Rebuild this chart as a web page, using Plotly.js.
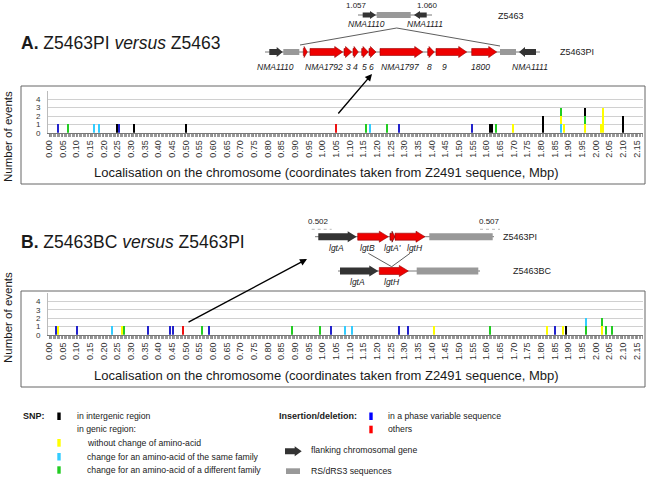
<!DOCTYPE html>
<html><head><meta charset="utf-8">
<script src="https://cdn.plot.ly/plotly-3.0.1.min.js"></script>
<style>body{margin:0;background:#fff}#c{width:652px;height:480px}</style>
</head><body><div id="c"></div>
<script>
// ---------- DATA (positions in Mbp, number of events) ----------
// Panel A: Z5463PI versus Z5463
const aCyanX   = [0.166, 0.182, 1.176, 1.875];
const aCyanY   = [1, 1, 1, 1];
const aYellowX = [1.699, 1.875, 1.885, 1.961, 2.018, 2.027];
const aYellowY = [1, 1, 1, 1, 1, 3];
const aGreenX  = [0.068, 1.161, 1.236, 1.636, 1.875, 1.961];
const aGreenY  = [1, 1, 1, 1, 1, 1];
const aBlackX  = [0.248, 0.311, 0.500, 1.615, 1.622, 1.806, 1.961, 2.100];
const aBlackY  = [1, 1, 1, 1, 1, 2, 1, 2];
const aBlueX   = [0.034, 0.256, 1.281, 1.548];
const aBlueY   = [1, 1, 1, 1];
const aRedX    = [1.050];
const aRedY    = [1];
// Panel B: Z5463BC versus Z5463PI
const bYellowX = [0.033, 0.266, 1.409, 1.823, 1.881, 2.023];
const bYellowY = [1, 1, 1, 1, 1, 1];
const bGreenX  = [0.273, 0.561, 0.888, 0.990, 1.615, 1.964, 2.023, 2.037, 2.060];
const bGreenY  = [1, 1, 1, 1, 1, 1, 1, 1, 1];
const bCyanX   = [0.232, 1.083, 1.109, 1.964];
const bCyanY   = [1, 1, 1, 1];
const bBlackX  = [1.891];
const bBlackY  = [1];
const bBlueX   = [0.024, 0.102, 0.361, 0.444, 0.453, 0.584, 1.031, 1.281, 1.315, 1.853];
const bBlueY   = [1, 1, 1, 1, 1, 1, 1, 1, 1, 1];
const bRedX    = [0.490];
const bRedY    = [1];
const yTicks   = [0, 1, 2, 3, 4];
const xTitle   = 'Localisation on the chromosome (coordinates taken from Z2491 sequence, Mbp)';
const yTitle   = 'Number of events';

// ---------- STYLE ----------
const COL = {black:'#000000', yellow:'#ffff00', cyan:'#33ccff', green:'#22cc22', blue:'#2222cc', red:'#ee1111'};
const FONT = 'Liberation Sans, Arial, sans-serif';
const W=652, H=480;
const PX=x=>x/W, PY=y=>1-y/H;
const shapes=[], ann=[];
function rect(x0,y0,x1,y1,fill,lc,lw){shapes.push({type:'rect',xref:'paper',yref:'paper',x0:PX(x0),x1:PX(x1),y0:PY(y0),y1:PY(y1),fillcolor:fill||'rgba(0,0,0,0)',line:{color:lc||'rgba(0,0,0,0)',width:lw||0},layer:'above'});}
function line(x0,y0,x1,y1,c,w,dash){shapes.push({type:'line',xref:'paper',yref:'paper',x0:PX(x0),x1:PX(x1),y0:PY(y0),y1:PY(y1),line:{color:c,width:w,dash:dash||'solid'},layer:'above'});}
function gene(x0,x1,yc,dir,fill,bh,hh,hl,lc){
  const L=Math.min(hl,(x1-x0)*0.8);
  let pts;
  if(dir>0){const b=x1-L;pts=[[x0,yc-bh/2],[b,yc-bh/2],[b,yc-hh/2],[x1,yc],[b,yc+hh/2],[b,yc+bh/2],[x0,yc+bh/2]];}
  else{const b=x0+L;pts=[[x1,yc-bh/2],[b,yc-bh/2],[b,yc-hh/2],[x0,yc],[b,yc+hh/2],[b,yc+bh/2],[x1,yc+bh/2]];}
  const path='M'+pts.map(p=>PX(p[0]).toFixed(5)+','+PY(p[1]).toFixed(5)).join('L')+'Z';
  shapes.push({type:'path',xref:'paper',yref:'paper',path:path,fillcolor:fill,line:{color:lc||fill,width:lc?0.6:0},layer:'above'});
}
function txt(x,y,t,size,o){o=o||{};ann.push({xref:'paper',yref:'paper',x:PX(x),y:PY(y),text:t,showarrow:false,xanchor:o.xa||'center',yanchor:'middle',textangle:o.ang||0,borderpad:0,font:{size:size,color:o.c||'#1a1a1a',family:o.f||FONT}});}
function arrowAnn(hx,hy,tx,ty){ann.push({xref:'paper',yref:'paper',x:PX(hx),y:PY(hy),ax:tx-hx,ay:ty-hy,text:'',showarrow:true,arrowhead:2,arrowsize:1,arrowwidth:1.4,arrowcolor:'#000'});}

// ---------- TRACES ----------
function bars(x,y,color,xa,ya){return {type:'bar',x:x,y:y,width:0.0075,marker:{color:color,line:{width:0}},xaxis:xa,yaxis:ya,hoverinfo:'skip',showlegend:false};}
const data=[
  bars(aCyanX,aCyanY,COL.cyan,'x','y'),
  bars(aYellowX,aYellowY,COL.yellow,'x','y'),
  bars(aGreenX,aGreenY,COL.green,'x','y'),
  bars(aBlackX,aBlackY,COL.black,'x','y'),
  bars(aBlueX,aBlueY,COL.blue,'x','y'),
  bars(aRedX,aRedY,COL.red,'x','y'),
  bars(bYellowX,bYellowY,COL.yellow,'x2','y2'),
  bars(bGreenX,bGreenY,COL.green,'x2','y2'),
  bars(bCyanX,bCyanY,COL.cyan,'x2','y2'),
  bars(bBlackX,bBlackY,COL.black,'x2','y2'),
  bars(bBlueX,bBlueY,COL.blue,'x2','y2'),
  bars(bRedX,bRedY,COL.red,'x2','y2')
];

// ---------- SHAPES / TEXT ----------
rect(21,86,645,184,null,'#666',1);
rect(21,291,645,387,null,'#666',1);
txt(326,172,xTitle,13);
txt(326,375,xTitle,13);
txt(8,137,yTitle,11.5,{ang:-90});
txt(8,318,yTitle,11.5,{ang:-90});

// Panel A
txt(20,43,'<b>A.</b> Z5463PI <i>versus</i> Z5463',17.5,{xa:'left'});
line(358,15,432,15,'#555',0.8);
gene(362.7,376,15,1,'#333',5,8,6);
rect(376.7,12,410.7,18,'#999');
gene(414,426.7,15,-1,'#333',5,8,6);
txt(356,6,'1.057',8); txt(427,6,'1.060',8);
txt(366.5,24,'<i>NMA1110</i>',8.5); txt(424.7,24,'<i>NMA1111</i>',8.5);
txt(497,16,'Z5463',9,{xa:'left'});
line(396.7,28,300,45,'#333',0.8); line(396.7,28,500,46,'#333',0.8);
line(265,52,540,52,'#555',0.8);
gene(269.3,282.7,52,1,'#333',6,10,6);
rect(283.3,49,299.3,55,'#999');
[[303.3,307.3],[310,342.7],[344,351.7],[353,358.3],[361.7,368.3],[369,376],[380,422.7],[427.7,434.3],[436,466.7],[471.7,496.7]]
  .forEach(g=>gene(g[0],g[1],52,1,'#ee0000',7,11,8,'#990000'));
rect(500,49,516,55,'#999');
gene(519,536,52,-1,'#333',6,10,6);
[['NMA1110',275.5],['NMA1792',324.3],['3',348.3],['4',355],['5',364.3],['6',371.7],['NMA1797',400],['8',429.3],['9',445],['1800',480],['NMA1111',530]]
  .forEach(l=>txt(l[1],67,'<i>'+l[0]+'</i>',8.5));
txt(559,52,'Z5463PI',9,{xa:'left'});
arrowAnn(372,74,337,115);

// Panel B
txt(20,242,'<b>B.</b> Z5463BC <i>versus</i> Z5463PI',17.5,{xa:'left'});
txt(318.3,221,'0.502',8); txt(489.3,221,'0.507',8);
line(311.7,229.3,331.7,229.3,'#bbb',1,'dot'); line(480,229.3,500,229.3,'#bbb',1,'dot');
line(315,236.7,494,236.7,'#555',0.8);
gene(318.3,356.7,236.7,1,'#333',7,11,9);
gene(357.7,388.3,236.7,1,'#ee0000',7,11,9,'#990000');
gene(390,395,236.7,1,'#ee0000',7,11,3,'#550000');
gene(395,425,236.7,1,'#ee0000',7,11,9,'#990000');
rect(429.3,233.2,492.7,240.2,'#999');
[['lgtA',336.7],['lgtB',367.7],["lgtA'",392.7],['lgtH',415]].forEach(l=>txt(l[1],247.7,'<i>'+l[0]+'</i>',8.5));
txt(502,236.7,'Z5463PI',9,{xa:'left'});
line(368.3,253.3,391.7,266.7,'#333',0.8); line(391.7,266.7,410,253.3,'#333',0.8);
line(338,271,480,271,'#555',0.8);
gene(340,378.3,271,1,'#333',7,11,9);
gene(379.3,408.3,271,1,'#ee0000',7,11,9,'#990000');
rect(416.7,267.5,478.3,274.5,'#999');
txt(357.3,281.7,'<i>lgtA</i>',8.5); txt(391.7,281.7,'<i>lgtH</i>',8.5);
txt(512,270.7,'Z5463BC',9,{xa:'left'});
arrowAnn(307,259,187,323);

// Legend
const LF=8.7;
txt(22,416,'<b>SNP:</b>',9,{xa:'left'});
rect(57.3,412.5,60.7,420,COL.black);
txt(75.5,416,'in intergenic region',LF,{xa:'left'});
txt(75.5,429.3,'in genic region:',LF,{xa:'left'});
rect(57.3,439,60.7,446.7,COL.yellow);
txt(86,443,'without change of amino-acid',LF,{xa:'left'});
rect(57.3,453,60.7,460.5,COL.cyan);
txt(86,456.7,'change for an amino-acid of the same family',LF,{xa:'left'});
rect(57.3,466.3,60.7,473.7,COL.green);
txt(86,470,'change for an amino-acid of a different family',LF,{xa:'left'});
txt(277.5,416,'<b>Insertion/deletion:</b>',9,{xa:'left'});
rect(369.3,412.5,372.7,420,'#0000ff');
txt(387.5,416,'in a phase variable sequence',LF,{xa:'left'});
rect(369.3,425.7,372.7,433.3,'#ff0000');
txt(387.5,429.3,'others',LF,{xa:'left'});
gene(285,301.7,451.3,1,'#333',6,10,7);
txt(310,450.3,'flanking chromosomal gene',LF,{xa:'left'});
rect(286,468.3,300,474,'#999');
txt(310,471,'RS/dRS3 sequences',LF,{xa:'left'});

// ---------- AXES ----------
function xax(anchor){return {domain:[PX(48),PX(643)],range:[-0.0037,2.1734],anchor:anchor,tickmode:'linear',tick0:0,dtick:0.05,tickformat:'.2f',tickangle:-90,
  tickfont:{size:9,color:'#333',family:FONT},ticks:'outside',ticklen:3,tickcolor:'#888',showline:true,linecolor:'#777',linewidth:1,showgrid:false,zeroline:false,
  minor:{dtick:0.005,tick0:0,ticks:'outside',ticklen:3,tickcolor:'#999',tickwidth:1,showgrid:false},fixedrange:true};}
function yax(anchor,y0,y5){return {domain:[PY(y0),PY(y5)],range:[0,5],anchor:anchor,tickmode:'array',tickvals:yTicks,ticktext:yTicks.map(String),
  tickfont:{size:8,color:'#333',family:FONT},showgrid:true,gridcolor:'#d0d0d0',gridwidth:1,showline:true,linecolor:'#bbb',zeroline:false,ticks:'',ticklabelstandoff:5,fixedrange:true};}

const layout={width:652,height:480,margin:{l:0,r:0,t:0,b:0},paper_bgcolor:'#fff',plot_bgcolor:'rgba(0,0,0,0)',
  barmode:'stack',bargap:0,showlegend:false,font:{family:FONT},
  xaxis:xax('y'),yaxis:yax('x',132.7,91),
  xaxis2:xax('y2'),yaxis2:yax('x2',334.8,293.1),
  shapes:shapes,annotations:ann};
Plotly.newPlot('c',data,layout,{displayModeBar:false,staticPlot:true});
</script></body></html>
